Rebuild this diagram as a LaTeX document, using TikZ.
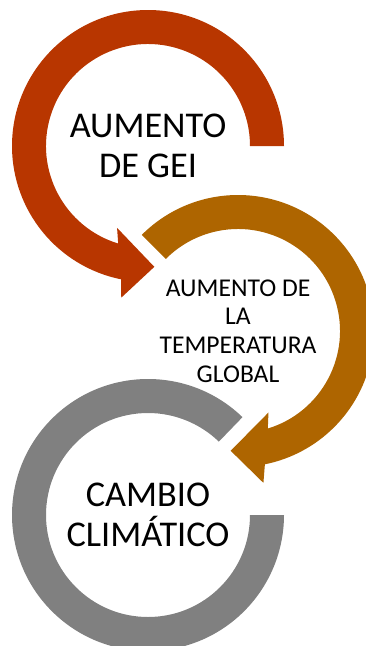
\documentclass[tikz,border=0pt]{standalone}
\usepackage{fontspec}
\setmainfont{Carlito}
\definecolor{geired}{RGB}{184,54,0}
\definecolor{tempbrown}{RGB}{174,101,0}
\definecolor{cambiogray}{RGB}{128,128,128}

\tikzset{every picture/.style={line width=0.75pt}}
\tikzset{
  bigtext/.style={align=center, inner sep=0pt, font=\fontsize{27.2}{30.5}\selectfont},
  smalltext/.style={align=center, inner sep=0pt, font=\fontsize{19.2}{21.4}\selectfont},
  ring/.style={draw=none, fill=#1}
}

\begin{document}
\begin{tikzpicture}[x=0.75pt,y=0.75pt,yscale=-1,xscale=1]
\useasboundingbox (0,0) rectangle (366,646);
\clip (0,0) rectangle (366,646);

% Text Node
\node[bigtext] (gei) at (148,146) {AUMENTO\\DE GEI};
% Text Node
\node[smalltext] (temp) at (238,331) {AUMENTO DE\\LA\\TEMPERATURA\\GLOBAL};
% Text Node
\node[bigtext] (cambio) at (148,515) {CAMBIO\\CLIMÁTICO};

%Circular Arrow [id:gei]
\path[ring=geired] ([shift={(0:136)}]gei.center) arc[start angle=0, end angle=-258.6, radius=136]
  -- ([shift={(-260:154)}]gei.center) -- ([shift={(-273:121)}]gei.center)
  -- ([shift={(-249.3:87.5)}]gei.center) -- ([shift={(-253:102)}]gei.center)
  arc[start angle=-253, end angle=0, radius=102] -- cycle;

%Circular Arrow [id:temp]
\path[ring=tempbrown] ([shift={(-135:136)}]temp.center) arc[start angle=-135, end angle=78.6, radius=136]
  -- ([shift={(80.5:154)}]temp.center) -- ([shift={(93.5:120)}]temp.center)
  -- ([shift={(69.5:87)}]temp.center) -- ([shift={(73:102)}]temp.center)
  arc[start angle=73, end angle=-135, radius=102] -- cycle;

%Circular Arc [id:cambio]
\path[ring=cambiogray] ([shift={(-46:136)}]cambio.center) arc[start angle=-46, end angle=-360, radius=136]
  -- ([shift={(0:102)}]cambio.center)
  arc[start angle=-360, end angle=-46, radius=102] -- cycle;

\end{tikzpicture}
\end{document}
